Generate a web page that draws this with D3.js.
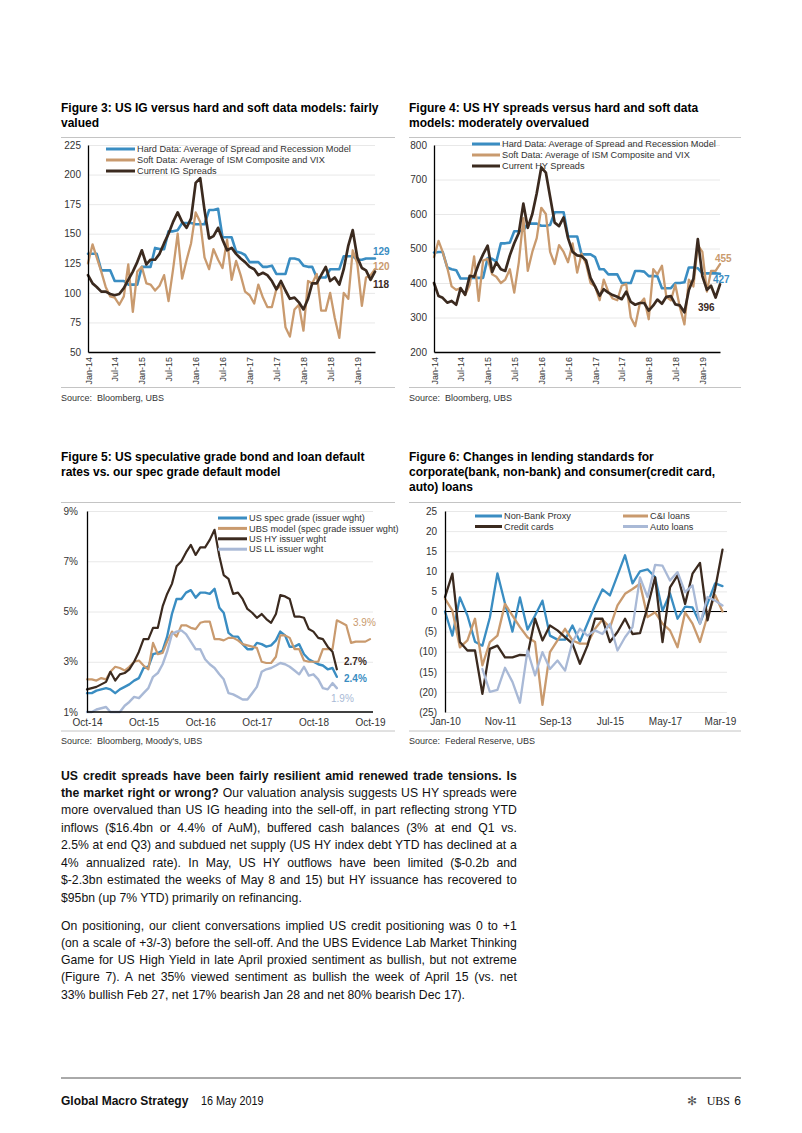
<!DOCTYPE html>
<html><head><meta charset="utf-8">
<script src="https://cdn.jsdelivr.net/npm/d3@7"></script>
<style>
body{margin:0;background:#fff}
svg{display:block}
text{font-family:"Liberation Sans",Arial,sans-serif}
</style></head><body>
<svg id="page" width="802" height="1133"></svg>
<script>
// ---------- DATA ----------
// Figure 3: US IG (monthly from Jan-14)
const igHard = [133,133,133,119,119,119,110,110,110,107,107,107,122,122,122,138,137,137,152,152,153,159,159,159,158,158,158,170,170,171,147,147,147,135,134,132,126,126,126,122,122,123,116,116,116,129,129,128,123,122,122,113,113,113,120,120,120,131,131,131,128,128,129,129,129];
const igSoft = [125,141,130,118,105,97,96,90,97,124,84,118,122,108,107,102,106,115,93,120,150,112,128,142,168,160,130,120,137,128,121,145,111,127,115,101,98,91,107,96,88,88,103,106,71,63,86,90,68,110,108,116,85,85,100,79,62,100,95,136,125,89,113,115,120];
const igSpread = [115,108,105,101,101,99,98,99,104,111,118,126,136,124,128,128,133,142,150,160,168,160,155,163,193,197,170,146,148,155,145,136,138,133,129,126,122,120,115,117,115,110,103,110,102,95,96,92,86,95,108,108,115,122,110,113,107,120,140,153,130,121,119,111,118];
const igTicks = [50,75,100,125,150,175,200,225];
const igEndLabels = ["129","120","118"];
// Figure 4: US HY (monthly from Jan-14)
const hyHard = [488,490,490,445,440,437,413,413,413,415,415,415,472,470,462,515,515,517,550,550,552,572,572,572,566,566,568,605,605,605,535,535,535,483,483,483,475,440,440,425,425,425,400,400,400,435,435,433,420,420,420,385,385,385,400,400,402,445,445,443,428,428,428,428,427];
const hySoft = [475,522,490,445,390,380,385,365,395,477,348,465,470,425,418,400,410,440,372,460,588,435,490,530,618,600,490,455,510,490,460,515,430,485,455,400,390,350,410,375,355,350,392,397,300,275,340,355,295,440,425,450,360,350,395,330,280,410,390,510,490,375,435,435,455];
const hySpread = [400,362,357,343,348,337,385,366,421,418,455,483,508,432,460,440,435,480,515,545,630,560,600,660,735,720,650,575,565,590,530,490,480,478,465,415,390,363,382,372,365,360,353,375,345,337,342,342,320,335,352,340,360,362,338,335,315,380,412,527,420,380,392,358,396];
const hyTicks = [200,300,400,500,600,700,800];
const hyEndLabels = ["455","427","396"];
const ts34Labels = ["Jan-14","Jul-14","Jan-15","Jul-15","Jan-16","Jul-16","Jan-17","Jul-17","Jan-18","Jul-18","Jan-19"];
// Figure 5: default rates, % (monthly from Oct-14)
const specGrade = [1.75,1.75,1.85,1.9,1.95,1.9,1.75,1.9,2.0,2.1,2.25,2.35,2.75,2.8,3.3,3.35,3.45,4.0,4.9,5.5,5.5,5.75,5.85,5.55,5.75,5.75,5.7,5.9,5.15,4.95,4.15,4.0,4.0,3.7,3.5,3.5,3.75,3.7,3.6,3.65,3.85,4.2,4.05,3.6,3.6,3.7,3.3,3.1,3.0,2.9,2.85,2.7,2.75,2.4];
const ubsModel = [2.3,2.3,2.25,2.35,2.3,2.6,2.8,2.75,2.65,2.8,3.0,3.05,2.85,2.7,3.75,3.3,3.35,3.8,4.2,4.0,4.45,4.45,4.35,4.3,4.55,4.6,4.6,3.9,3.9,3.85,3.95,3.95,3.85,3.7,3.65,3.6,3.55,3.0,2.95,2.95,3.2,4.05,4.05,3.95,3.5,3.5,3.05,3.0,3.0,3.0,3.5,3.5,3.5,4.65,4.55,4.45,3.75,3.8,3.8,3.8,3.9];
const hyIssuer = [1.9,1.95,2.0,2.1,2.2,2.6,2.25,2.5,2.55,2.7,3.0,3.4,3.9,3.9,4.35,4.35,5.2,5.7,6.1,6.8,7.0,7.35,7.65,7.25,7.55,7.55,7.85,8.25,7.2,6.45,6.3,5.7,5.75,5.5,5.1,4.95,4.75,4.9,4.7,4.55,4.9,5.65,5.6,5.5,4.8,4.8,4.75,4.3,4.2,3.95,3.9,3.6,3.4,2.7];
const llIssuer = [1.0,1.0,1.1,1.15,1.2,1.0,1.0,1.0,1.25,1.4,1.6,1.55,1.75,1.95,2.4,2.55,2.9,3.4,4.1,4.2,4.25,4.1,3.8,3.5,3.5,3.1,2.9,2.75,2.5,2.3,1.75,1.7,1.6,1.5,1.5,1.75,2.0,2.6,2.7,2.75,2.85,2.95,2.9,2.8,2.65,2.5,2.8,2.45,2.5,2.3,1.95,1.9,2.15,1.95];
const defTicks = [1,3,5,7,9];
const defXLabels = ["Oct-14","Oct-15","Oct-16","Oct-17","Oct-18","Oct-19"];
const defEndLabels = ["3.9%","2.7%","2.4%","1.9%"];
// Figure 6: lending standards (quarterly from Jan-10)
const nonBank = [0,-6,3.5,-1,-7.5,-8.5,-1.5,9.5,2,-5,3.5,-4.5,-1,2.7,-6,-7,-7,-3.5,-7.5,-3,1.5,5.5,4,9,14,7,10,10.5,8.5,0.2,4.5,-1.8,1.2,1,-3,2,7,6.3];
const ciLoans = [3.2,0.2,-8.9,-7.2,-1.8,-13.4,-7.6,-6,1.9,-1,-3.9,-6.4,-7.6,-23.2,-10.1,-7.2,-4.3,-7.2,-8,-8,-4.3,-2,-4,1.5,4.4,5.6,6.9,-1.4,-0.2,-3,-4.7,-8.9,-0.2,-3,-7.6,-1,4.1,0];
const creditCards = [3.6,9.4,-7.6,-9.7,-9.7,-20.5,-9.3,-8.5,-11.4,-11.4,-10.8,-10.9,-1.8,-7.2,-3.5,-4.7,-6.4,-8,-13,-8.5,-1.8,-1.8,-7.6,-5.1,-1.8,-5.6,-5.4,1.1,8.5,-7.6,6,9,1.9,9.4,12.1,-2.2,5.6,15.4];
const autoLoans = [null,null,null,null,null,-14.3,-20,-19.5,-14,-17.5,-22.7,-9.7,-15.9,-10.1,-14.3,-12.2,-14.7,-7.6,-4.3,-6,-4.7,-5.6,-3.1,-9.7,-6.4,-3.9,8.5,3.6,11.6,11.4,7.7,9.8,4.8,6.5,-3.1,3.6,2.7,1.5];
const lendTicks = [-25,-20,-15,-10,-5,0,5,10,15,20,25];
const lendXLabels = ["Jan-10","Nov-11","Sep-13","Jul-15","May-17","Mar-19"];

// ---------- STYLE ----------
const COL = {blue:"#3a8dc2", tan:"#c99a6e", dark:"#3b2a1f", light:"#a9b9d6", grid:"#e2e2e2", rule:"#c4c4c4", text:"#333"};
const parseM = d3.timeParse("%b-%y");
const fmtM = d3.timeFormat("%b-%y");

const svg = d3.select("#page");
svg.append("rect").attr("width",802).attr("height",1133).attr("fill","#fff");

function titleText(x, y, lines){
  const t = svg.append("text").attr("x",x).attr("y",y).attr("font-size",12).attr("font-weight","bold").attr("fill","#000");
  lines.forEach((l,i)=> t.append("tspan").attr("x",x).attr("dy", i?15:0).text(l));
}
function rule(x1,x2,y,color,w){
  svg.append("line").attr("x1",x1).attr("x2",x2).attr("y1",y).attr("y2",y).attr("stroke",color||COL.rule).attr("stroke-width",w||1);
}
function sourceText(x,y,txt){
  svg.append("text").attr("x",x).attr("y",y).attr("font-size",9).attr("fill","#333").style("white-space","pre").text(txt);
}
function series(vals, start, stepMonths){
  return vals.map((v,i)=>({d:d3.timeMonth.offset(start, i*stepMonths), v}));
}
function drawPath(g, data, x, y, color, w){
  const line = d3.line().defined(d=>d.v!=null).x(d=>x(d.d)).y(d=>y(d.v));
  g.append("path").datum(data).attr("fill","none").attr("stroke",color).attr("stroke-width",w)
    .attr("stroke-linejoin","round").attr("stroke-linecap","round").attr("d",line);
}
function legendItem(g, x1, x2, y, color, label){
  g.append("line").attr("x1",x1).attr("x2",x2).attr("y1",y).attr("y2",y).attr("stroke",color).attr("stroke-width",3);
  g.append("text").attr("x",x2+2).attr("y",y).attr("dy","0.35em").attr("font-size",9.2).attr("fill","#333").text(label);
}
function styleAxis(sel, domainColor, fontSize){
  sel.selectAll("text").attr("font-size",fontSize||9.5).attr("fill","#333").attr("font-family","Liberation Sans, Arial, sans-serif");
  sel.select(".domain").attr("stroke",domainColor||"#000").attr("stroke-width",1.3);
}
function gridY(g, y, ticks, x0, x1){
  const ax = g.append("g").attr("transform",`translate(${x0},0)`)
    .call(d3.axisLeft(y).tickValues(ticks).tickSize(-(x1-x0)).tickFormat(""));
  ax.select(".domain").remove();
  ax.selectAll("line").attr("stroke",COL.grid).attr("stroke-width",0.8);
}

// ---------- Figures 3 & 4 ----------
function spreadChart(o){
  const g = svg.append("g");
  const start = parseM("Jan-14");
  const x = d3.scaleTime().domain([start, parseM("May-19")]).range([o.x0, o.x1]);
  const y = d3.scaleLinear().domain([o.ticks[0], o.ticks[o.ticks.length-1]]).range([352,145]);
  gridY(g, y, o.ticks.slice(1), o.x0, o.x1);
  drawPath(g, series(o.hard,start,1), x, y, COL.blue, 2.6);
  drawPath(g, series(o.soft,start,1), x, y, COL.tan, 2.3);
  drawPath(g, series(o.spread,start,1), x, y, COL.dark, 2.7);
  const ya = g.append("g").attr("transform",`translate(${o.x0},0)`)
    .call(d3.axisLeft(y).tickValues(o.ticks).tickSize(0).tickPadding(7));
  styleAxis(ya, "#000", 10);
  const xa = g.append("g").attr("transform","translate(0,352)")
    .call(d3.axisBottom(x).tickValues(ts34Labels.map(parseM)).tickSize(0).tickFormat(fmtM));
  styleAxis(xa, "#000", 9);
  xa.selectAll("text").attr("transform","rotate(-90)").attr("x",-5).attr("y",0).attr("dy","0.35em").style("text-anchor","end");
  o.legend.forEach((l,i)=> legendItem(g, o.lx1, o.lx2, o.ly + i*o.lstep, l[1], l[0]));
  o.ends.forEach(e=> g.append("text").attr("x",e.x).attr("y",e.y).attr("dy","0.35em").attr("font-size",10)
    .attr("font-weight","bold").attr("fill",e.c).text(e.t));
}
titleText(61,112,["Figure 3: US IG versus hard and soft data models: fairly","valued"]);
rule(61,395,137.5);
spreadChart({x0:88,x1:375,ticks:igTicks,hard:igHard,soft:igSoft,spread:igSpread,
  lx1:106,lx2:135,ly:149,lstep:11,
  legend:[["Hard Data: Average of Spread and Recession Model",COL.blue],["Soft Data: Average of ISM Composite and VIX",COL.tan],["Current IG Spreads",COL.dark]],
  ends:[{t:igEndLabels[0],x:373,y:251.5,c:COL.blue},{t:igEndLabels[1],x:373,y:266,c:COL.tan},{t:igEndLabels[2],x:373,y:284.5,c:COL.dark}]});
rule(61,395,387.5);
sourceText(61,401,"Source:  Bloomberg, UBS");

titleText(409,112,["Figure 4: US HY spreads versus hard and soft data","models: moderately overvalued"]);
rule(409,741,137.5);
spreadChart({x0:434,x1:720,ticks:hyTicks,hard:hyHard,soft:hySoft,spread:hySpread,
  lx1:472,lx2:500,ly:144,lstep:11,
  legend:[["Hard Data: Average of Spread and Recession Model",COL.blue],["Soft Data: Average of ISM Composite and VIX",COL.tan],["Current HY Spreads",COL.dark]],
  ends:[{t:hyEndLabels[0],x:715,y:258,c:COL.tan},{t:hyEndLabels[1],x:713,y:279,c:COL.blue},{t:hyEndLabels[2],x:698,y:307,c:COL.dark}]});
rule(409,741,387.5);
sourceText(409,401,"Source:  Bloomberg, UBS");

// ---------- Figure 5 ----------
(function(){
  const g = svg.append("g");
  const start = parseM("Oct-14");
  const x = d3.scaleTime().domain([start, parseM("Oct-19")]).range([87,370]);
  const y = d3.scaleLinear().domain([1,9]).range([712,511]);
  gridY(g, y, defTicks.slice(1), 87, 373);
  drawPath(g, series(specGrade,start,1), x, y, COL.blue, 2.4);
  drawPath(g, series(ubsModel,start,1), x, y, COL.tan, 2.2);
  drawPath(g, series(hyIssuer,start,1), x, y, COL.dark, 2.2);
  drawPath(g, series(llIssuer,start,1), x, y, COL.light, 2.4);
  const ya = g.append("g").attr("transform","translate(87,0)")
    .call(d3.axisLeft(y).tickValues(defTicks).tickSize(0).tickPadding(9).tickFormat(d=>d+"%"));
  styleAxis(ya, "#000", 10);
  const xa = g.append("g").attr("transform","translate(0,712)")
    .call(d3.axisBottom(x).tickValues(defXLabels.map(parseM)).tickSize(0).tickPadding(7).tickFormat(fmtM));
  styleAxis(xa, "#000", 10);
  xa.select(".domain").attr("d","M87,0H373");
  const leg = [["US spec grade (issuer wght)",COL.blue],["UBS model (spec grade issuer wght)",COL.tan],["US HY issuer wght",COL.dark],["US LL issuer wght",COL.light]];
  leg.forEach((l,i)=> legendItem(g, 218, 247, 518 + i*10.4, l[1], l[0]));
  const ends = [{x:353,y:622,c:COL.tan,b:false},{x:344,y:661,c:COL.dark,b:true},{x:344,y:678,c:COL.blue,b:true},{x:331,y:698,c:COL.light,b:false}];
  ends.forEach((e,i)=> g.append("text").attr("x",e.x).attr("y",e.y).attr("dy","0.35em").attr("font-size",10)
    .attr("font-weight",e.b?"bold":"normal").attr("fill",e.c).text(defEndLabels[i]));
})();
titleText(61,461,["Figure 5: US speculative grade bond and loan default","rates vs. our spec grade default model"]);
rule(61,395,502.5);
rule(61,395,731);
sourceText(61,744,"Source:  Bloomberg, Moody's, UBS");

// ---------- Figure 6 ----------
(function(){
  const g = svg.append("g");
  const start = parseM("Jan-10");
  const x = d3.scaleTime().domain([start, parseM("Apr-19")]).range([445,722.5]);
  const y = d3.scaleLinear().domain([-25,25]).range([712,511]);
  gridY(g, y, lendTicks, 445, 727);
  g.append("line").attr("x1",445).attr("x2",727).attr("y1",y(0)).attr("y2",y(0)).attr("stroke","#000").attr("stroke-width",1.1);
  drawPath(g, series(nonBank,start,3), x, y, COL.blue, 2.3);
  drawPath(g, series(ciLoans,start,3), x, y, COL.tan, 2.3);
  drawPath(g, series(creditCards,start,3), x, y, COL.dark, 2.3);
  drawPath(g, series(autoLoans,start,3), x, y, COL.light, 2.3);
  const ya = g.append("g").attr("transform","translate(445,0)")
    .call(d3.axisLeft(y).tickValues(lendTicks).tickSize(0).tickPadding(8).tickFormat(d=> d<0 ? "("+(-d)+")" : d));
  styleAxis(ya, "#000", 10);
  const xa = g.append("g").attr("transform","translate(0,712)")
    .call(d3.axisBottom(x).tickValues(lendXLabels.map(parseM)).tickSize(0).tickPadding(6).tickFormat(fmtM));
  styleAxis(xa, "#000", 10);
  xa.select(".domain").remove();
  legendItem(g, 475, 502, 516, COL.blue, "Non-Bank Proxy");
  legendItem(g, 623, 648, 516, COL.tan, "C&I loans");
  legendItem(g, 475, 502, 526.5, COL.dark, "Credit cards");
  legendItem(g, 623, 648, 526.5, COL.light, "Auto loans");
})();
titleText(409,461,["Figure 6: Changes in lending standards for","corporate(bank, non-bank) and consumer(credit card,","auto) loans"]);
rule(409,741,502.5);
rule(409,741,731);
sourceText(409,744,"Source:  Federal Reserve, UBS");

// ---------- Body text ----------
function textLine(x, y, segs, width, justify){
  const t = svg.append("text").attr("font-size",13).attr("fill","#111");
  segs.forEach(s=> t.append("tspan").attr("font-weight", s.b?"bold":"normal").text(s.t));
  const L = t.node().getComputedTextLength();
  let sx = 0.94;
  if (justify){
    const n = (segs.map(s=>s.t).join("").match(/ /g)||[]).length;
    const extra = width/sx - L;
    if (extra < 0) sx = width/L; else t.style("word-spacing", (extra/n)+"px");
  }
  t.attr("transform", `translate(${x},${y}) scale(${sx},1)`);
}
const para1 = [
  [{t:"US credit spreads have been fairly resilient amid renewed trade tensions. Is",b:true}],
  [{t:"the market right or wrong?",b:true},{t:" Our valuation analysis suggests US HY spreads were"}],
  [{t:"more overvalued than US IG heading into the sell-off, in part reflecting strong YTD"}],
  [{t:"inflows ($16.4bn or 4.4% of AuM), buffered cash balances (3% at end Q1 vs."}],
  [{t:"2.5% at end Q3) and subdued net supply (US HY index debt YTD has declined at a"}],
  [{t:"4% annualized rate). In May, US HY outflows have been limited ($-0.2b and"}],
  [{t:"$-2.3bn estimated the weeks of May 8 and 15) but HY issuance has recovered to"}],
  [{t:"$95bn (up 7% YTD) primarily on refinancing."}]
];
const para2 = [
  [{t:"On positioning, our client conversations implied US credit positioning was 0 to +1"}],
  [{t:"(on a scale of +3/-3) before the sell-off. And the UBS Evidence Lab Market Thinking"}],
  [{t:"Game for US High Yield in late April proxied sentiment as bullish, but not extreme"}],
  [{t:"(Figure 7). A net 35% viewed sentiment as bullish the week of April 15 (vs. net"}],
  [{t:"33% bullish Feb 27, net 17% bearish Jan 28 and net 80% bearish Dec 17)."}]
];
para1.forEach((l,i)=> textLine(61, 779.5 + i*17.43, l, 456, i < para1.length-1));
para2.forEach((l,i)=> textLine(61, 929.5 + i*17.3, l, 456, i < para2.length-1));

// ---------- Footer ----------
rule(61,741,1078,"#555",1);
svg.append("text").attr("x",61).attr("y",1105).attr("font-size",12).attr("font-weight","bold").attr("fill","#111").text("Global Macro Strategy");
svg.append("text").attr("transform","translate(201,1105) scale(0.9,1)").attr("font-size",12).attr("fill","#111").text("16 May 2019");
svg.append("text").attr("x",741).attr("y",1105).attr("font-size",12).attr("fill","#111").attr("text-anchor","end").text("6");
svg.append("text").attr("x",730).attr("y",1105).attr("font-size",12).attr("fill","#111").attr("text-anchor","end")
  .style("font-family","Liberation Serif, serif").text("UBS");
svg.append("text").attr("x",697).attr("y",1105).attr("font-size",12).attr("fill","#555").attr("text-anchor","end")
  .style("font-family","DejaVu Sans, sans-serif").text("\u273B");
</script>
</body></html>
